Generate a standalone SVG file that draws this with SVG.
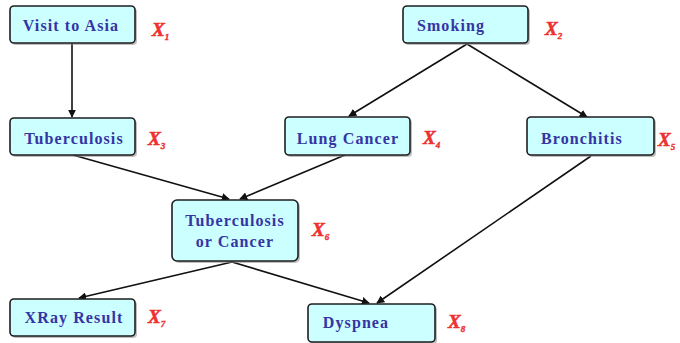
<svg xmlns="http://www.w3.org/2000/svg" width="680" height="343" viewBox="0 0 680 343">
  <style>
    .box { fill: #ccffff; stroke: #1e1e1e; stroke-width: 1.6; }
    .shadow { fill: #8a8a8a; opacity: 0.55; }
    .name { font-family: "Liberation Serif", "Times New Roman", serif; font-weight: bold; font-size: 16px; fill: #3434a4; text-anchor: middle; letter-spacing: 1.1px; }
    .var { font-family: "Liberation Serif", "Times New Roman", serif; font-weight: bold; font-style: italic; font-size: 19px; fill: #ee3030; stroke: #ee3030; stroke-width: 0.6; }
    .sub { font-size: 9px; stroke-width: 0.4; }
    .edge { stroke: #111; stroke-width: 1.6; fill: none; marker-end: url(#head); }
  </style>
  <defs>
    <marker id="head" viewBox="0 0 10 10" refX="9" refY="5" markerWidth="8" markerHeight="8" markerUnits="userSpaceOnUse" orient="auto">
      <path d="M0,0 L10,5 L0,10 z" fill="#111"/>
    </marker>
  </defs>

  <!-- connectors -->
  <g id="edges">
    <line class="edge" x1="72" y1="43" x2="72" y2="117"/>
    <line class="edge" x1="467" y1="44" x2="349" y2="116"/>
    <line class="edge" x1="467" y1="44" x2="587" y2="117"/>
    <line class="edge" x1="73" y1="155" x2="229" y2="199"/>
    <line class="edge" x1="345" y1="155" x2="240" y2="199"/>
    <line class="edge" x1="232" y1="262" x2="79" y2="298"/>
    <line class="edge" x1="232" y1="262" x2="369" y2="303"/>
    <line class="edge" x1="591" y1="156" x2="377" y2="303"/>
  </g>

  <!-- nodes -->
  <g id="visit">
    <rect class="shadow" x="12" y="8" width="125" height="37" rx="4"/>
    <rect class="box" x="10" y="6" width="125" height="37" rx="4"/>
    <text class="name" x="71" y="31">Visit to Asia</text>
    <text class="var" x="152" y="36">X<tspan class="sub" dy="4">1</tspan></text>
  </g>
  <g id="smoking">
    <rect class="shadow" x="405" y="8" width="125" height="37" rx="4"/>
    <rect class="box" x="403" y="6" width="125" height="37" rx="4"/>
    <text class="name" x="451" y="31">Smoking</text>
    <text class="var" x="545" y="35">X<tspan class="sub" dy="4">2</tspan></text>
  </g>
  <g id="tuberculosis">
    <rect class="shadow" x="12" y="120" width="125" height="37" rx="4"/>
    <rect class="box" x="10" y="118" width="125" height="37" rx="4"/>
    <text class="name" x="74" y="144">Tuberculosis</text>
    <text class="var" x="148" y="145">X<tspan class="sub" dy="4">3</tspan></text>
  </g>
  <g id="lung-cancer">
    <rect class="shadow" x="287" y="119" width="125" height="38" rx="4"/>
    <rect class="box" x="285" y="117" width="125" height="38" rx="4"/>
    <text class="name" x="348" y="144">Lung Cancer</text>
    <text class="var" x="423" y="144">X<tspan class="sub" dy="4">4</tspan></text>
  </g>
  <g id="bronchitis">
    <rect class="shadow" x="529" y="119" width="127" height="38" rx="4"/>
    <rect class="box" x="527" y="117" width="127" height="38" rx="4"/>
    <text class="name" x="582" y="144">Bronchitis</text>
    <text class="var" x="658" y="146">X<tspan class="sub" dy="4">5</tspan></text>
  </g>
  <g id="tb-or-cancer">
    <rect class="shadow" x="174" y="202" width="126" height="61" rx="5"/>
    <rect class="box" x="172" y="200" width="126" height="61" rx="5"/>
    <text class="name" x="235" y="226">Tuberculosis</text>
    <text class="name" x="235" y="247">or Cancer</text>
    <text class="var" x="312" y="236">X<tspan class="sub" dy="4">6</tspan></text>
  </g>
  <g id="xray">
    <rect class="shadow" x="12" y="301" width="125" height="37" rx="4"/>
    <rect class="box" x="10" y="299" width="125" height="37" rx="4"/>
    <text class="name" x="74" y="323">XRay Result</text>
    <text class="var" x="148" y="323">X<tspan class="sub" dy="4">7</tspan></text>
  </g>
  <g id="dyspnea">
    <rect class="shadow" x="310" y="306" width="127" height="38" rx="4"/>
    <rect class="box" x="308" y="304" width="127" height="38" rx="4"/>
    <text class="name" x="356" y="328">Dyspnea</text>
    <text class="var" x="448" y="328">X<tspan class="sub" dy="4">8</tspan></text>
  </g>
</svg>
